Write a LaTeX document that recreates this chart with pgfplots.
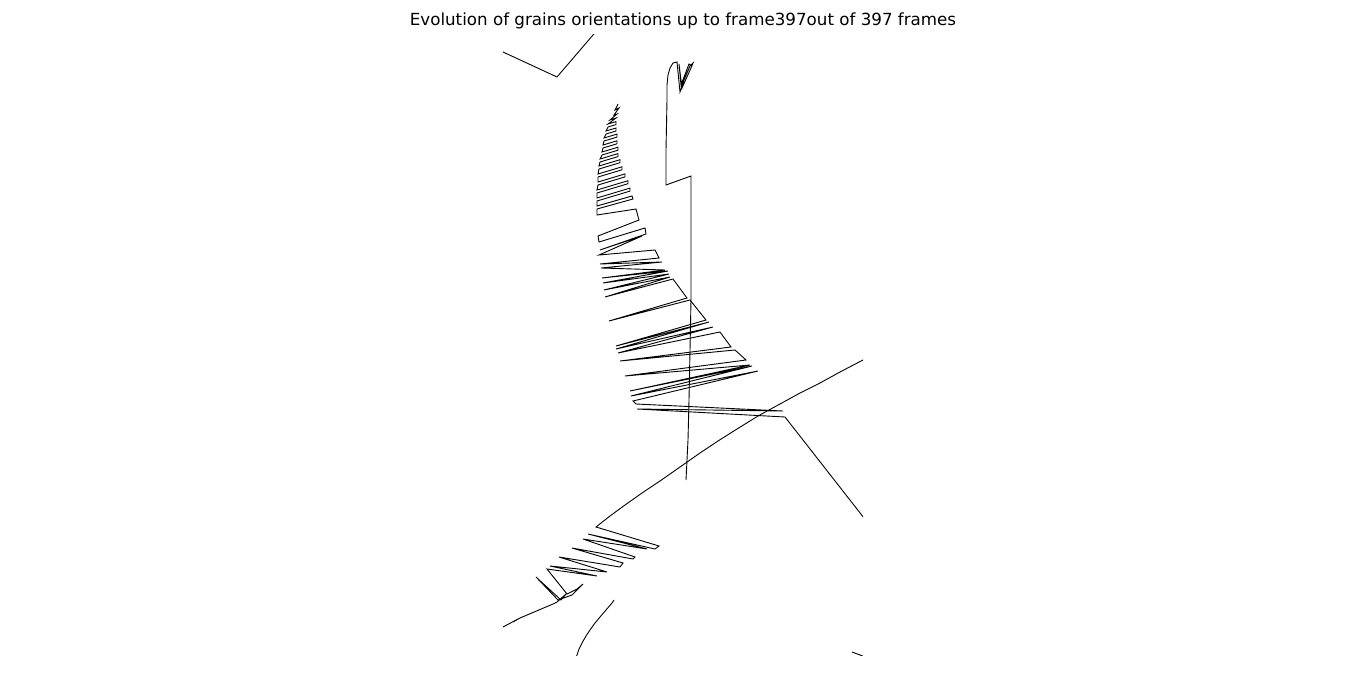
\documentclass[border=0pt]{standalone}
\usepackage{pgfplots}
\pgfplotsset{compat=1.18}
\usepackage{fontspec}
\setmainfont{DejaVu Sans}
\begin{document}
\begin{tikzpicture}[x=1pt,y=1pt]
\path (0,0) rectangle (1366,674);
\begin{axis}[at={(503pt,19pt)}, anchor=south west, scale only axis,
  width=360pt, height=620pt, xmin=503, xmax=863, ymin=35, ymax=655,
  y dir=reverse, hide axis, clip=true,
  tr/.style={black, line width=0.9pt, mark=none, line join=miter}]
% upper zigzag trajectory
\addplot[tr] coordinates {
(618,104)(615,110)(619,108)(614,115)(617,114)(610,120)(616,118)
(608,124)(616,121.6)(616,124.6)(608,127)
(606,131)(616,128)(616,131)(606,134)
(604,138)(617,134.1)(617,137.1)(604,141)
(603,145)(617,140.8)(617,143.8)(603,148)
(602,152)(618,147.2)(618,150.2)(602,155)
(600,159)(618,153.6)(618,156.6)(600,162)
(599,166)(620,159.7)(620,162.7)(599,169)
(598,174)(622,166.8)(622,169.8)(598,177)
(598,182)(625,173.9)(625,176.9)(598,185)
(597,190)(628,180.7)(628,183.7)(597,193)
(597,198)(630,188.1)(630,191.1)(597,201)
(597,206)(632,196)(633,199)(597,209)
(597,215)(636,209)(639,220)(598,236)(599,242)
(645,228)(646,234)(600,250)(642,236)(599,255)(655,250)(659,258)(600,264)
(662,262)(601,268)(665,270)(602,278)(668,271)(603,283)(669,274)(604,290)
(670,277)(605,297)(673,279)(687,298)(609,321)(690,300)(706,320)(616,346)
(709,322)(616,349)(713,327)(618,353)(720,332)(731,347)(620,361)(735,350)
(746,360)(625,376)(750,365)(630,391)(752,366)(631,396)(758,371)(633,401)
(636,404)(783,411)(637,409)(785,417)(900,564)
};
% vertical trajectory
\addplot[tr] coordinates {
(686,480)(687,460)(688,440)(689,400)(690,350)(691,300)(691,260)(691,230)(691,200)(691,176)(666,185)
(666,150)(667,100)(667,85)(668,75)(670,68)(673,63)(677,62)(678,72)(680,92)(684,80)(690,66)
(693,63)(691,68)(682,88)(679,64)(681,85)(689,64)(692,66)
};
% lower trajectory
\addplot[tr] coordinates {
(900,340)(863,360)(840,372)(820,383)(800,393)(780,404)(758,416)(737,429)(718,441)(700,453)(680,467)(660,481)(642,493)(625,505)(610,516)(596,527)
(659,546)(655,549)(588,534)(647,549)(583,539)(635,557)(633,559)(572,548)
(623,563)(620,567)(559,557)(607,572)(550,566)(597,576)(547,569)(567,594)
(577,589)(583,584)(572,595)(558,600)(536,577)(561,600)(566,594)(557,602)
(553,604)(520,618)(513,622)(518,619)(503,627)(480,637)
};
% bottom curve
\addplot[tr] coordinates {
(614,600)(612,603)(606,610)(600,617)(595,623)(590,630)(586,636)(582,643)(579,649)(577,655)(573,664)
};
% top-left
\addplot[tr] coordinates {
(480,41)(503,52)(557,77)(593,35)(602,25)
};
% bottom-right fragment
\addplot[tr] coordinates {
(852,652)(860,655)(872,660)
};
\end{axis}
\node[font=\fontsize{16.7}{20}\selectfont] at (683,653) {Evolution of grains orientations up to frame397out of 397 frames};
\end{tikzpicture}
\end{document}
